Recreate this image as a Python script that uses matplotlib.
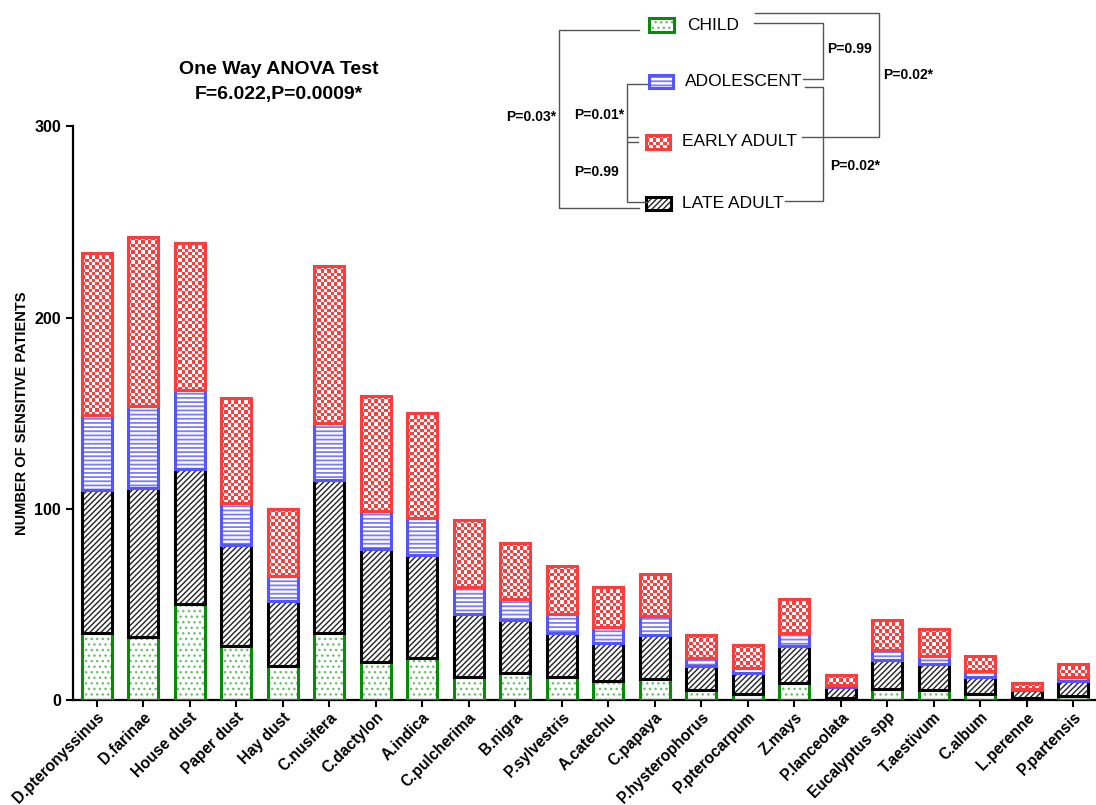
import numpy as np
import matplotlib
matplotlib.use("Agg")
import matplotlib.pyplot as plt
from matplotlib.patches import Rectangle
from matplotlib.lines import Line2D
from matplotlib.colors import ListedColormap

plt.rcParams['font.family'] = ['Liberation Sans', 'DejaVu Sans']

categories = ["D.pteronyssinus", "D.farinae", "House dust", "Paper dust", "Hay dust",
              "C.nusifera", "C.dactylon", "A.indica", "C.pulcherima", "B.nigra",
              "P.sylvestris", "A.catechu", "C.papaya", "P.hysterophorus", "P.pterocarpum",
              "Z.mays", "P.lanceolata", "Eucalyptus spp", "T.aestivum", "C.album",
              "L.perenne", "P.partensis"]
child       = [35, 33, 50, 28, 18, 35, 20, 22, 12, 14, 12, 10, 11, 5, 3, 9, 1, 6, 5, 3, 1, 2]
late_adult  = [75, 78, 71, 53, 34, 80, 59, 54, 33, 28, 23, 20, 23, 13, 11, 19, 6, 15, 14, 9, 4, 8]
adolescent  = [39, 43, 41, 22, 13, 30, 20, 19, 14, 11, 10, 8, 10, 4, 3, 7, 1, 5, 4, 3, 1, 2]
early_adult = [85, 88, 77, 55, 35, 82, 60, 55, 35, 29, 25, 21, 22, 12, 12, 18, 5, 16, 14, 8, 3, 7]
group_names = ["CHILD", "ADOLESCENT", "EARLY ADULT", "LATE ADULT"]
yticks = [0, 100, 200, 300]
title_lines = ["One Way ANOVA Test", "F=6.022,P=0.0009*"]

GREEN = "#0a8a0a"
GREEN_H = "#6cbf6c"
BLUE = "#5555ff"
BLUE_H = "#7b7bff"
RED = "#ff3c3c"
BLACK = "#000000"

W, H = 1096, 805
fig = plt.figure(figsize=(W / 100, H / 100), dpi=100)
ax = fig.add_axes([73 / W, 1 - 700 / H, 1 - 73 / W, (700 - 126.5) / H])
ax.set_xlim(-0.51, 21.49)
ax.set_ylim(0, 300)

x = np.arange(len(categories))
bw = 0.637
EDGE_LW = 2.2

c = np.array(child, float)
la = np.array(late_adult, float)
ad = np.array(adolescent, float)
ea = np.array(early_adult, float)
b1 = c
b2 = c + la
b3 = b2 + ad


def hatched(vals, bottom, hatch, hcolor, ecolor, hlw):
    with plt.rc_context({'hatch.linewidth': hlw}):
        ax.bar(x, vals, bw, bottom=bottom, facecolor='white', edgecolor=hcolor,
               linewidth=0, hatch=hatch, zorder=2)
    ax.bar(x, vals, bw, bottom=bottom, fill=False, edgecolor=ecolor,
           linewidth=EDGE_LW, zorder=3)


hatched(c, 0, '...', GREEN_H, GREEN, 1.0)
hatched(la, b1, '//////', '#222222', BLACK, 1.0)
hatched(ad, b2, '----', BLUE_H, BLUE, 1.3)

# early adult: checkerboard fill clipped to each bar
red_bars = ax.bar(x, ea, bw, bottom=b3, facecolor='none', edgecolor=RED,
                  linewidth=EDGE_LW, zorder=3)
cmap = ListedColormap(['white', RED])
sq = 3.3
for rect in red_bars:
    x0, y0 = rect.get_x(), rect.get_y()
    w, h = rect.get_width(), rect.get_height()
    p0 = ax.transData.transform((x0, y0))
    p1 = ax.transData.transform((x0 + w, y0 + h))
    ncol = max(1, int(round(abs(p1[0] - p0[0]) / sq)))
    nrow = max(1, int(round(abs(p1[1] - p0[1]) / sq)))
    chk = np.indices((nrow, ncol)).sum(0) % 2
    im = ax.imshow(chk, cmap=cmap, extent=(x0, x0 + w, y0, y0 + h), aspect='auto',
                   interpolation='nearest', zorder=2, vmin=0, vmax=1)
    im.set_clip_path(rect)

ax.set_xlim(-0.51, 21.49)
ax.set_ylim(0, 300)

for s in ['top', 'right']:
    ax.spines[s].set_visible(False)
for s in ['left', 'bottom']:
    ax.spines[s].set_linewidth(1.6)
ax.set_yticks(yticks)
ax.set_yticklabels([str(v) for v in yticks], fontsize=11.5, fontweight='bold')
ax.set_xticks(x)
ax.set_xticklabels(categories, rotation=45, ha='right', rotation_mode='anchor',
                   fontsize=11.2, fontweight='bold')
ax.tick_params(axis='both', direction='out', length=5, width=1.5)
ax.tick_params(axis='x', pad=2)
ax.set_ylabel("NUMBER OF SENSITIVE PATIENTS", fontsize=10.5, fontweight='bold', labelpad=4)

# title
fig.text(279 / W, 1 - 70 / H, title_lines[0], ha='center', va='center', fontsize=14, fontweight='bold')
fig.text(279 / W, 1 - 95 / H, title_lines[1], ha='center', va='center', fontsize=14, fontweight='bold')


def P(px, py):
    return (px / W, 1 - py / H)


def fline(xs, ys):
    fig.add_artist(Line2D([v / W for v in xs], [1 - v / H for v in ys],
                          transform=fig.transFigure, color='#555555', lw=1.0))


# legend boxes
boxes = [(649, 18, 25, 14), (649, 75, 24, 13), (646, 135, 24, 14), (646, 197, 25, 13)]
text_pos = [(687, 25), (685, 81), (682, 142), (682, 203)]
styles = [('...', GREEN_H, GREEN, 1.0), ('----', BLUE_H, BLUE, 1.3), (None, None, RED, 0),
          ('//////', '#222222', BLACK, 1.0)]
for (bx, by, bwid, bh), (tx, ty), name, st in zip(boxes, text_pos, group_names, styles):
    hatch, hc, ec, hlw = st
    if hatch is not None:
        with plt.rc_context({'hatch.linewidth': hlw}):
            fig.add_artist(Rectangle(P(bx, by + bh), bwid / W, bh / H, transform=fig.transFigure,
                                     facecolor='white', edgecolor=hc, lw=0, hatch=hatch))
    else:
        lax = fig.add_axes([bx / W, 1 - (by + bh) / H, bwid / W, bh / H])
        ncol = int(round(bwid / sq)); nrow = int(round(bh / sq))
        lax.imshow(np.indices((nrow, ncol)).sum(0) % 2, cmap=cmap, aspect='auto',
                   interpolation='nearest', vmin=0, vmax=1)
        lax.set_xticks([]); lax.set_yticks([])
        for s in lax.spines.values():
            s.set_visible(False)
    fig.add_artist(Rectangle(P(bx, by + bh), bwid / W, bh / H, transform=fig.transFigure,
                             fill=False, edgecolor=ec, lw=EDGE_LW))
    fig.text(tx / W, 1 - ty / H, name, ha='left', va='center', fontsize=12.5)

# comparison brackets
fline([639, 559, 559, 639], [30, 30, 208, 208])
fline([647, 627, 627, 647], [84, 84, 202, 202])
fline([628, 638], [137, 137])
fline([628, 638], [142, 142])
fline([754, 823, 823, 803], [23, 23, 79, 79])
fline([755, 879, 879, 802], [13, 13, 137, 137])
fline([805, 823, 823, 785], [87, 87, 201, 201])

ptexts = [("P=0.03*", 506, 117), ("P=0.01*", 574, 115), ("P=0.99", 574, 172),
          ("P=0.99", 827, 49), ("P=0.02*", 883, 75), ("P=0.02*", 830, 166)]
for t, tx, ty in ptexts:
    fig.text(tx / W, 1 - ty / H, t, ha='left', va='center', fontsize=10, fontweight='bold')

fig.savefig("out.png", dpi=100)
